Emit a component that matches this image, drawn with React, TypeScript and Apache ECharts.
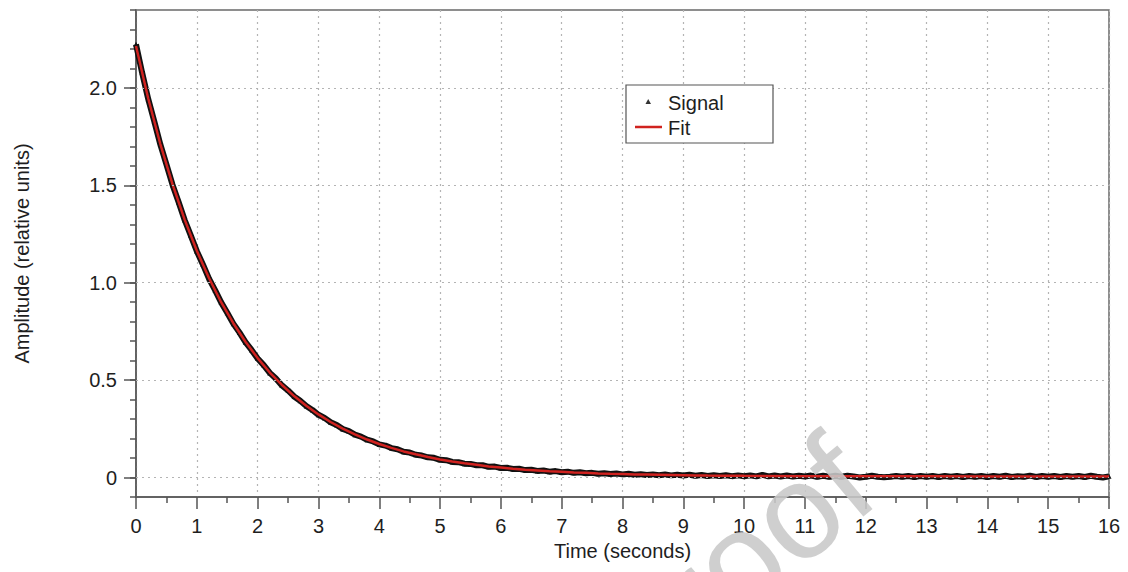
import React, { useEffect, useRef } from "react";
import * as echarts from "echarts";

// ---- data ----
const signalStart = 0;
const signalStep = 0.1;
const signalValues = [
  2.224, 2.079, 1.944, 1.829, 1.71, 1.607, 1.503, 1.414, 1.322, 1.243,
  1.162, 1.094, 1.021, 0.962, 0.899, 0.846, 0.79, 0.745, 0.695, 0.655,
  0.611, 0.577, 0.537, 0.508, 0.473, 0.447, 0.416, 0.394, 0.367, 0.347,
  0.322, 0.306, 0.284, 0.27, 0.249, 0.238, 0.22, 0.21, 0.194, 0.185,
  0.17, 0.164, 0.151, 0.145, 0.132, 0.128, 0.117, 0.113, 0.104, 0.101,
  0.091, 0.089, 0.08, 0.079, 0.071, 0.07, 0.063, 0.063, 0.055, 0.056,
  0.049, 0.05, 0.044, 0.045, 0.038, 0.04, 0.034, 0.036, 0.03, 0.033,
  0.027, 0.03, 0.024, 0.027, 0.022, 0.024, 0.019, 0.022, 0.018, 0.021,
  0.016, 0.019, 0.014, 0.017, 0.013, 0.016, 0.012, 0.015, 0.011, 0.014,
  0.01, 0.014, 0.009, 0.013, 0.008, 0.012, 0.008, 0.012, 0.007, 0.011,
  0.007, 0.011, 0.006, 0.014, 0.006, 0.01, 0.005, 0.01, 0.005, 0.009,
  0.005, 0.01, 0.004, 0.009, 0.004, 0.009, 0.004, 0.009, 0.005, 0.0,
  0.004, 0.009, 0.004, 0.001, 0.004, 0.008, 0.004, 0.008, 0.003, 0.008,
  0.004, 0.008, 0.003, 0.008, 0.004, 0.008, 0.003, 0.008, 0.004, 0.008,
  0.003, 0.008, 0.004, 0.009, 0.003, 0.007, 0.004, 0.01, 0.003, 0.008,
  0.004, 0.008, 0.003, 0.008, 0.004, 0.008, 0.003, 0.009, 0.004, 0.0,
  0.006,
];

const fitTimes = [
  0, 0.2, 0.4, 0.6, 0.8, 1.0, 1.2, 1.4, 1.6, 1.8,
  2.0, 2.2, 2.4, 2.6, 2.8, 3.0, 3.2, 3.4, 3.6, 3.8,
  4.0, 4.2, 4.4, 4.6, 4.8, 5.0, 5.2, 5.4, 5.6, 5.8,
  6.0, 6.2, 6.4, 6.6, 6.8, 7.0, 7.2, 7.4, 7.6, 7.8,
  8.0, 8.2, 8.4, 8.6, 8.8, 9.0, 9.2, 9.4, 9.6, 9.8,
  10, 11, 12, 13, 14, 15, 16,
];
const fitValues = [
  2.215, 1.947, 1.712, 1.506, 1.324, 1.164, 1.024, 0.9, 0.792, 0.697,
  0.613, 0.539, 0.475, 0.418, 0.368, 0.324, 0.285, 0.251, 0.222, 0.195,
  0.172, 0.152, 0.134, 0.119, 0.105, 0.093, 0.082, 0.073, 0.065, 0.057,
  0.051, 0.045, 0.04, 0.036, 0.032, 0.029, 0.026, 0.024, 0.021, 0.019,
  0.018, 0.016, 0.015, 0.014, 0.013, 0.012, 0.011, 0.01, 0.0095, 0.009,
  0.0085, 0.007, 0.0065, 0.006, 0.0058, 0.0055, 0.0053,
];

const yMajorTicks = [0, 0.5, 1.0, 1.5, 2.0];
const xTitle = "Time (seconds)";
const yTitle = "Amplitude (relative units)";
const legendNames = ["Signal", "Fit"];
const watermark = "Proof";

const FONT = "'Liberation Sans', Arial, Helvetica, sans-serif";
const AXIS_COLOR = "#555";
const GRID_COLOR = "#b4b4b4";
const TEXT_COLOR = "#1e1e1e";
const FIT_COLOR = "#d0221f";

export default function App() {
  const ref = useRef<HTMLDivElement>(null);

  useEffect(() => {
    if (!ref.current) return;
    const chart = echarts.init(ref.current, undefined, { renderer: "svg" });

    const signalData = signalValues.map((v, i) => [
      +(signalStart + i * signalStep).toFixed(2),
      v,
    ]);
    const fitData = fitTimes.map((t, i) => [t, fitValues[i]]);

    const tickStyle = { color: AXIS_COLOR, width: 1.5 };

    const option: any = {
      animation: false,
      backgroundColor: "#ffffff",
      textStyle: { fontFamily: FONT },
      grid: {
        left: 136,
        right: 19,
        top: 10,
        bottom: 75,
        show: true,
        borderColor: "#6a6a6a",
        borderWidth: 1.5,
        backgroundColor: "transparent",
      },
      xAxis: {
        type: "value",
        min: 0,
        max: 16,
        interval: 1,
        name: xTitle,
        nameLocation: "middle",
        nameGap: 43,
        nameTextStyle: { fontSize: 20, color: TEXT_COLOR, fontFamily: FONT },
        axisLine: { show: true, onZero: false, lineStyle: tickStyle },
        axisTick: { show: true, length: 12, lineStyle: tickStyle },
        minorTick: { show: true, splitNumber: 2, length: 6, lineStyle: tickStyle },
        axisLabel: { fontSize: 20, color: TEXT_COLOR, margin: 19, fontFamily: FONT },
        splitLine: {
          show: true,
          lineStyle: { type: [2, 4], color: GRID_COLOR, width: 1.2 },
        },
        minorSplitLine: { show: false },
      },
      yAxis: [
        {
          type: "value",
          min: -0.1,
          max: 2.4,
          interval: 0.1,
          name: yTitle,
          nameLocation: "middle",
          nameGap: 104,
          nameTextStyle: { fontSize: 20, color: TEXT_COLOR, fontFamily: FONT },
          axisLine: { show: true, onZero: false, lineStyle: tickStyle },
          axisTick: { show: true, length: 6, lineStyle: tickStyle },
          axisLabel: {
            fontSize: 20,
            color: TEXT_COLOR,
            margin: 19,
            fontFamily: FONT,
            formatter: (v: number) => {
              const r = Math.round(v * 10);
              if (r % 5 !== 0) return "";
              if (r === 0) return "0";
              return (r / 10).toFixed(1);
            },
          },
          splitLine: { show: false },
        },
        {
          type: "value",
          min: -0.1,
          max: 2.4,
          interval: 0.1,
          position: "left",
          axisLine: { show: false },
          axisLabel: { show: false },
          axisTick: {
            show: true,
            length: 12,
            customValues: yMajorTicks,
            lineStyle: tickStyle,
          },
          splitLine: { show: false },
        },
      ],
      series: [
        {
          name: "grid-y",
          type: "line",
          data: [],
          z: 1,
          silent: true,
          markLine: {
            silent: true,
            symbol: ["none", "none"],
            label: { show: false },
            animation: false,
            lineStyle: { type: [2, 4], color: GRID_COLOR, width: 1.2 },
            data: yMajorTicks.map((y) => ({ yAxis: y })),
          },
        },
        {
          name: legendNames[0],
          type: "line",
          data: signalData,
          z: 3,
          symbol: "triangle",
          symbolSize: 5,
          showSymbol: true,
          showAllSymbol: true,
          itemStyle: { color: "#111" },
          lineStyle: { color: "#111", width: 6 },
        },
        {
          name: legendNames[1],
          type: "line",
          data: fitData,
          z: 4,
          symbol: "none",
          lineStyle: { color: FIT_COLOR, width: 2.5 },
        },
      ],
      graphic: [
        {
          type: "rect",
          z: 20,
          shape: { x: 626, y: 85, width: 147, height: 58 },
          style: { fill: "#fff", stroke: "#555", lineWidth: 1.2 },
        },
        {
          type: "polygon",
          z: 21,
          shape: { points: [[645.5, 104], [651, 104], [648.2, 99]] },
          style: { fill: "#333" },
        },
        {
          type: "text",
          z: 21,
          x: 668,
          y: 103,
          style: {
            text: legendNames[0],
            fontSize: 20,
            fontFamily: FONT,
            fill: TEXT_COLOR,
            verticalAlign: "middle",
            align: "left",
          },
        },
        {
          type: "line",
          z: 21,
          shape: { x1: 635, y1: 127, x2: 662, y2: 127 },
          style: { stroke: FIT_COLOR, lineWidth: 2.5 },
        },
        {
          type: "text",
          z: 21,
          x: 668,
          y: 128,
          style: {
            text: legendNames[1],
            fontSize: 20,
            fontFamily: FONT,
            fill: TEXT_COLOR,
            verticalAlign: "middle",
            align: "left",
          },
        },
        {
          type: "text",
          z: 30,
          x: 606,
          y: 672,
          rotation: (40 * Math.PI) / 180,
          silent: true,
          style: {
            text: watermark,
            fontSize: 135,
            fontFamily: FONT,
            fill: "rgba(200,200,200,0.88)",
            verticalAlign: "middle",
            align: "left",
          },
        },
      ],
    };

    chart.setOption(option);
    return () => {
      chart.dispose();
    };
  }, []);

  return (
    <div
      ref={ref}
      style={{ position: "absolute", left: 0, top: 0, width: 1128, height: 572 }}
    />
  );
}
